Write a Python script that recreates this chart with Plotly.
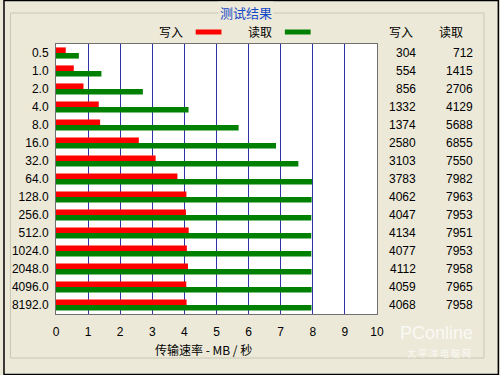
import plotly.graph_objects as go

categories = ["0.5", "1.0", "2.0", "4.0", "8.0", "16.0", "32.0", "64.0",
              "128.0", "256.0", "512.0", "1024.0", "2048.0", "4096.0", "8192.0"]
write_kb = [304, 554, 856, 1332, 1374, 2580, 3103, 3783,
            4062, 4047, 4134, 4077, 4112, 4059, 4068]
read_kb = [712, 1415, 2706, 4129, 5688, 6855, 7550, 7982,
           7963, 7953, 7951, 7953, 7958, 7965, 7958]
x_ticks = list(range(0, 11))

write_mb = [v / 1000 for v in write_kb]
read_mb = [v / 1000 for v in read_kb]

BG = "#ECE9D8"
L, R, T, B = 53, 123, 44, 61
W, H = 500, 375
PW, PH = W - L - R, H - T - B

def px(x):
    return (x - L) / PW

def py(y):
    return (H - B - y) / PH

CJK = "Noto Sans CJK SC"
NUM = "Liberation Sans"

fig = go.Figure()
fig.add_trace(go.Bar(y=categories, x=write_mb, orientation="h", name="写入",
                     marker=dict(color="#FF0000", line=dict(width=0))))
fig.add_trace(go.Bar(y=categories, x=read_mb, orientation="h", name="读取",
                     marker=dict(color="#008000", line=dict(width=0))))

ann = []
shapes = []
# right value columns
for i, (w, r) in enumerate(zip(write_kb, read_kb)):
    ann.append(dict(x=px(418), y=i, xref="paper", yref="y", text=str(w),
                    showarrow=False, xanchor="right", yanchor="middle",
                    font=dict(family=NUM, size=12, color="#000")))
    ann.append(dict(x=px(476), y=i, xref="paper", yref="y", text=str(r),
                    showarrow=False, xanchor="right", yanchor="middle",
                    font=dict(family=NUM, size=12, color="#000")))

# group box
shapes.append(dict(type="rect", xref="paper", yref="paper",
                   x0=px(7), x1=px(485), y0=py(358), y1=py(13),
                   line=dict(color="#C8C6B4", width=1), layer="below"))
# outer border
shapes.append(dict(type="rect", xref="paper", yref="paper",
                   x0=px(0.5), x1=px(499.5), y0=py(374.5), y1=py(0.5),
                   line=dict(color="#000000", width=1.5), layer="below"))

ann.append(dict(x=px(245), y=py(12), xref="paper", yref="paper", text="测试结果",
                showarrow=False, xanchor="center", yanchor="middle",
                bgcolor=BG, borderpad=1,
                font=dict(family=CJK, size=13, color="#1448C8")))

# legend
ann.append(dict(x=px(183), y=py(32), xref="paper", yref="paper", text="写入",
                showarrow=False, xanchor="right", yanchor="middle",
                font=dict(family=CJK, size=12, color="#000")))
ann.append(dict(x=px(273), y=py(32), xref="paper", yref="paper", text="读取",
                showarrow=False, xanchor="right", yanchor="middle",
                font=dict(family=CJK, size=12, color="#000")))
shapes.append(dict(type="rect", xref="paper", yref="paper",
                   x0=px(194), x1=px(220), y0=py(34.5), y1=py(29.5),
                   line=dict(width=0), fillcolor="#FF0000"))
shapes.append(dict(type="rect", xref="paper", yref="paper",
                   x0=px(284), x1=px(310), y0=py(34.5), y1=py(29.5),
                   line=dict(width=0), fillcolor="#008000"))
ann.append(dict(x=px(401), y=py(32), xref="paper", yref="paper", text="写入",
                showarrow=False, xanchor="center", yanchor="middle",
                font=dict(family=CJK, size=12, color="#000")))
ann.append(dict(x=px(452), y=py(32), xref="paper", yref="paper", text="读取",
                showarrow=False, xanchor="center", yanchor="middle",
                font=dict(family=CJK, size=12, color="#000")))

# axis title
ann.append(dict(x=px(202), y=py(349), xref="paper", yref="paper",
                text="传输速率 - MB / 秒",
                showarrow=False, xanchor="center", yanchor="middle",
                font=dict(family=CJK, size=12, color="#000")))

# watermark
ann.append(dict(x=px(437), y=py(333), xref="paper", yref="paper", text="PConline",
                showarrow=False, xanchor="center", yanchor="middle",
                font=dict(family="Liberation Sans", size=18, color="rgba(255,255,255,0.75)")))
ann.append(dict(x=px(440), y=py(353), xref="paper", yref="paper", text="太 平 洋 电 脑 网",
                showarrow=False, xanchor="center", yanchor="middle",
                font=dict(family=CJK, size=9, color="rgba(255,255,255,0.75)")))

fig.update_layout(
    width=W, height=H,
    margin=dict(l=L, r=R, t=T, b=B),
    paper_bgcolor=BG, plot_bgcolor="#FFFFFF",
    barmode="group", bargap=0.38, bargroupgap=0,
    showlegend=False,
    annotations=ann, shapes=shapes,
    xaxis=dict(range=[0, 10], tickvals=x_ticks, ticktext=[str(t) for t in x_ticks],
               showgrid=True, gridcolor="#3030A8", gridwidth=1,
               zeroline=False, showline=True, linecolor="#707070", mirror=True,
               ticks="outside", ticklen=7, tickcolor=BG,
               tickfont=dict(family=NUM, size=12, color="#000"), fixedrange=True),
    yaxis=dict(type="category", categoryorder="array", categoryarray=categories,
               autorange="reversed",
               showgrid=False, zeroline=False, showline=True, linecolor="#707070",
               mirror=True, ticks="outside", ticklen=4, tickcolor=BG,
               tickfont=dict(family=NUM, size=12, color="#000"), fixedrange=True),
)

fig.write_html("out.html")
